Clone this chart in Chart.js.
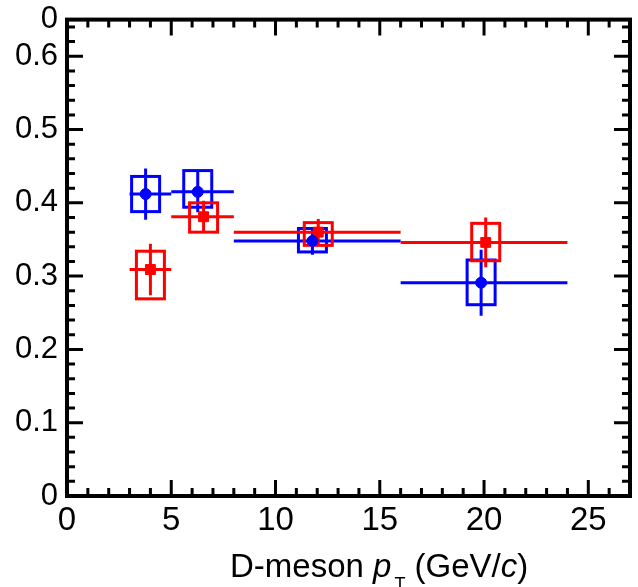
<!DOCTYPE html>
<html lang="en">
<head>
<meta charset="utf-8">
<title>D-meson pT</title>
<script src="https://cdn.jsdelivr.net/npm/chart.js@4.4.0/dist/chart.umd.min.js"></script>
<style>
  html, body { margin: 0; padding: 0; background: #fff; }
</style>
</head>
<body>
<canvas id="chart" width="638" height="587"></canvas>
<script>
// pT bins (GeV/c)
var binLow  = [3, 5, 8, 16];
var binHigh = [5, 8, 16, 24];

// blue series
var blueX        = [3.77, 6.27, 11.77, 19.86];
var blueY        = [0.412, 0.415, 0.348, 0.291];
var blueStat     = [0.035, 0.028, 0.019, 0.045];
var blueSystUp   = [0.024, 0.029, 0.017, 0.031];
var blueSystDown = [0.024, 0.021, 0.015, 0.030];

// red series
var redX        = [4.0, 6.55, 12.05, 20.08];
var redY        = [0.309, 0.381, 0.360, 0.346];
var redStat     = [0.035, 0.022, 0.018, 0.034];
var redSystUp   = [0.025, 0.019, 0.013, 0.026];
var redSystDown = [0.040, 0.021, 0.018, 0.025];

// axis ticks
var xTickValues = [0, 5, 10, 15, 20, 25];
var xTickLabels = ["0", "5", "10", "15", "20", "25"];
var yTickValues = [0, 0.1, 0.2, 0.3, 0.4, 0.5, 0.6, 0.65];
var yTickLabels = ["0", "0.1", "0.2", "0.3", "0.4", "0.5", "0.6", "0"];

var xTitleParts = [
  ["D-meson ", "normal"],
  ["p", "italic"],
  ["T", "sub"],
  [" (GeV/", "normal"],
  ["c", "italic"],
  [")", "normal"]
];

var FONT = "'Liberation Sans', Arial, Helvetica, sans-serif";
var BLUE = "#0000ff";
var RED = "#ff0000";

function series(xs, ys) {
  return xs.map(function (x, i) { return { x: x, y: ys[i] }; });
}

// error bars (stat) + boxes (syst), drawn below the markers
var errorPlugin = {
  id: "errors",
  beforeDatasetsDraw: function (chart) {
    var ctx = chart.ctx, xs = chart.scales.x, ys = chart.scales.y;
    var a = chart.chartArea;
    ctx.save();
    ctx.beginPath();
    ctx.rect(a.left, a.top, a.right - a.left, a.bottom - a.top);
    ctx.clip();
    ctx.lineWidth = 3;
    var sets = [
      [blueX, blueY, blueStat, blueSystUp, blueSystDown, BLUE],
      [redX, redY, redStat, redSystUp, redSystDown, RED]
    ];
    sets.forEach(function (s) {
      ctx.strokeStyle = s[5];
      for (var i = 0; i < s[0].length; i++) {
        var px = xs.getPixelForValue(s[0][i]);
        var py = ys.getPixelForValue(s[1][i]);
        // box
        var top = ys.getPixelForValue(s[1][i] + s[3][i]);
        var bot = ys.getPixelForValue(s[1][i] - s[4][i]);
        ctx.strokeRect(px - 14, top, 28, bot - top);
        // horizontal bin width
        ctx.beginPath();
        ctx.moveTo(xs.getPixelForValue(binLow[i]), py);
        ctx.lineTo(xs.getPixelForValue(binHigh[i]), py);
        // vertical stat
        ctx.moveTo(px, ys.getPixelForValue(s[1][i] + s[2][i]));
        ctx.lineTo(px, ys.getPixelForValue(s[1][i] - s[2][i]));
        ctx.stroke();
      }
    });
    ctx.restore();
  }
};

// ROOT-like frame with inner ticks on all four sides, and the x title
var framePlugin = {
  id: "frame",
  afterDraw: function (chart) {
    var ctx = chart.ctx, xs = chart.scales.x, ys = chart.scales.y;
    var a = chart.chartArea;
    ctx.save();
    ctx.strokeStyle = "#000";
    ctx.lineWidth = 3;
    ctx.beginPath();
    var v, p, len;
    for (v = 0; v <= 27.001; v += 1) {
      p = xs.getPixelForValue(v);
      len = (Math.round(v) % 5 === 0) ? 16 : 8;
      ctx.moveTo(p, a.bottom); ctx.lineTo(p, a.bottom - len);
      ctx.moveTo(p, a.top); ctx.lineTo(p, a.top + len);
    }
    for (var k = 0; k <= 32; k++) {
      v = k * 0.02;
      p = ys.getPixelForValue(v);
      len = (k % 5 === 0) ? 16 : 8;
      ctx.moveTo(a.left, p); ctx.lineTo(a.left + len, p);
      ctx.moveTo(a.right, p); ctx.lineTo(a.right - len, p);
    }
    ctx.stroke();
    ctx.lineWidth = 4;
    ctx.strokeRect(a.left, a.top, a.right - a.left, a.bottom - a.top);

    // x axis title
    ctx.fillStyle = "#000";
    ctx.textBaseline = "alphabetic";
    var x = 230, base = 577;
    xTitleParts.forEach(function (part) {
      if (part[1] === "sub") {
        ctx.font = "18px " + FONT;
        ctx.fillText(part[0], x + 3, base + 13);
        x += 3 + ctx.measureText(part[0]).width;
        return;
      }
      ctx.font = (part[1] === "italic" ? "italic " : "") + "33px " + FONT;
      ctx.fillText(part[0], x, base);
      x += ctx.measureText(part[0]).width;
    });
    ctx.restore();
  }
};

var ctx = document.getElementById("chart").getContext("2d");
var chart = new Chart(ctx, {
  type: "scatter",
  data: {
    datasets: [{
      data: series(blueX, blueY),
      pointStyle: "circle",
      pointRadius: 5.5,
      backgroundColor: BLUE,
      borderColor: BLUE,
      borderWidth: 1
    }, {
      data: series(redX, redY),
      pointStyle: "rect",
      pointRadius: 7,
      backgroundColor: RED,
      borderColor: RED,
      borderWidth: 1
    }]
  },
  options: {
    responsive: false,
    animation: false,
    layout: { padding: { top: 18, right: 4, left: 0, bottom: 0 } },
    plugins: { legend: { display: false }, tooltip: { enabled: false } },
    scales: {
      x: {
        type: "linear",
        min: 0,
        max: 27,
        grid: { display: false },
        border: { display: false },
        afterBuildTicks: function (s) {
          s.ticks = xTickValues.map(function (v) { return { value: v }; });
        },
        afterFit: function (s) { s.height = 91; },
        ticks: {
          autoSkip: false,
          maxRotation: 0,
          padding: -3,
          color: "#000",
          font: { family: FONT, size: 33 },
          callback: function (v, i) { return xTickLabels[i]; }
        }
      },
      y: {
        type: "linear",
        min: 0,
        max: 0.65,
        grid: { display: false },
        border: { display: false },
        afterBuildTicks: function (s) {
          s.ticks = yTickValues.map(function (v) { return { value: v }; });
        },
        afterFit: function (s) { s.width = 67; },
        ticks: {
          autoSkip: false,
          padding: 1,
          color: "#000",
          font: { family: FONT, size: 31 },
          callback: function (v, i) { return yTickLabels[i]; }
        }
      }
    }
  },
  plugins: [errorPlugin, framePlugin]
});
</script>
</body>
</html>
